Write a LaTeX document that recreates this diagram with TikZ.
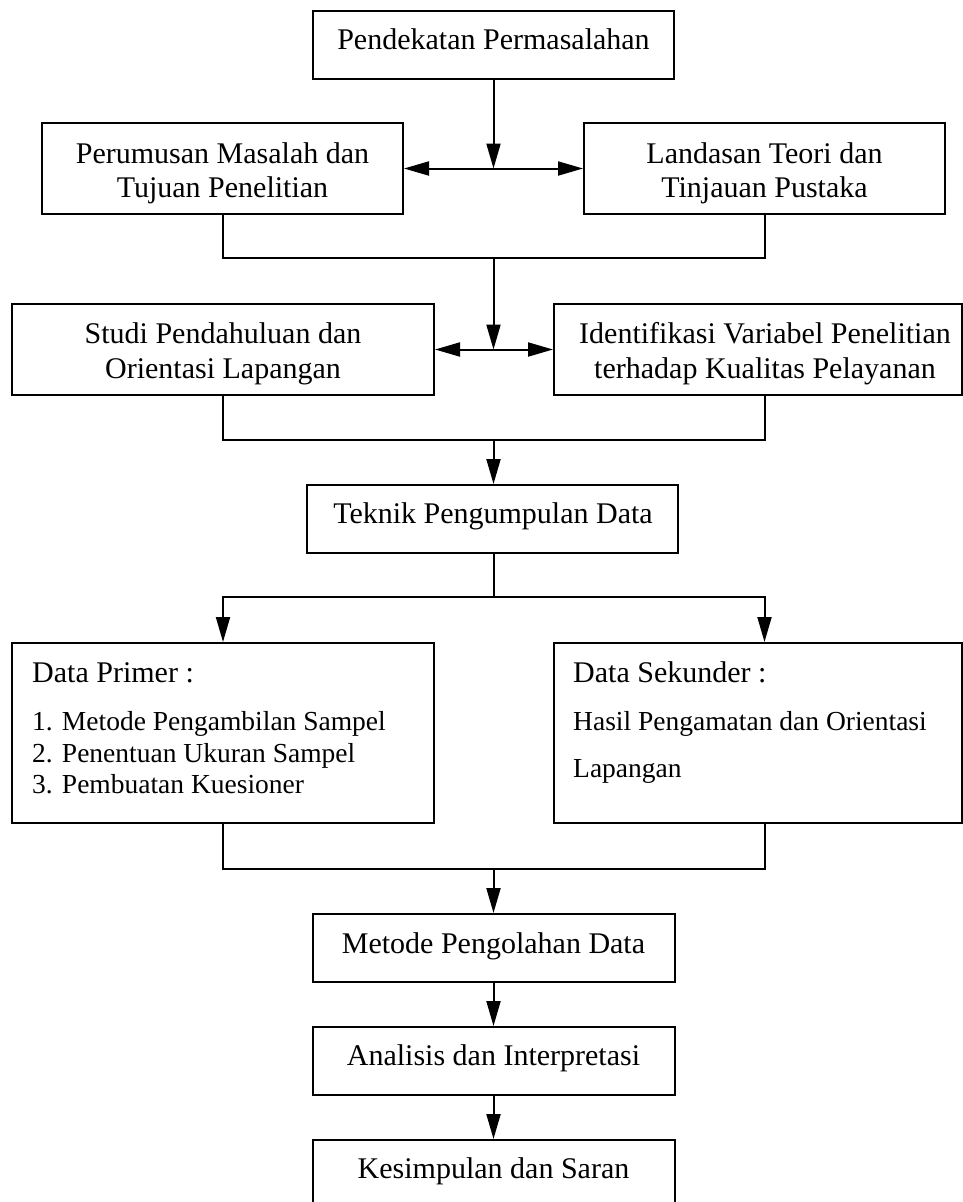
\documentclass[tikz,border=0pt]{standalone}
\usepackage{fontspec}
\setmainfont{Liberation Serif}
\usetikzlibrary{arrows.meta}
\begin{document}
\begin{tikzpicture}[x=1pt,y=-1pt,
  box/.style={draw,line width=2pt,rectangle,inner sep=0pt},
  lbl/.style={anchor=base,inner sep=0pt,font=\fontsize{30}{35}\selectfont},
  lblw/.style={anchor=base west,inner sep=0pt,font=\fontsize{30}{35}\selectfont},
  lbls/.style={anchor=base west,inner sep=0pt,font=\fontsize{27.5}{33}\selectfont},
  conn/.style={line width=2pt},
  arr/.style={conn,-{Triangle[length=25pt,width=14pt]}},
  darr/.style={conn,{Triangle[length=25pt,width=14pt]}-{Triangle[length=25pt,width=14pt]}}]
\useasboundingbox (0,0) rectangle (963,1202);
% boxes
\node[box,minimum width=361pt,minimum height=68pt] (pp) at (493.5,45) {};
\node[box,minimum width=361pt,minimum height=91pt] (pm) at (222.5,168.5) {};
\node[box,minimum width=361pt,minimum height=91pt] (lt) at (764.5,168.5) {};
\node[box,minimum width=422pt,minimum height=91pt] (sp) at (223,349.5) {};
\node[box,minimum width=408pt,minimum height=91pt] (iv) at (758,349.5) {};
\node[box,minimum width=371pt,minimum height=68pt] (tk) at (492.5,519) {};
\node[box,minimum width=422pt,minimum height=180pt] (dp) at (223,733) {};
\node[box,minimum width=408pt,minimum height=180pt] (ds) at (758,733) {};
\node[box,minimum width=362pt,minimum height=68pt] (mp) at (493.5,948) {};
\node[box,minimum width=362pt,minimum height=68pt] (ai) at (493.5,1061) {};
\node[box,minimum width=362pt,minimum height=68pt] (ks) at (493.5,1174) {};
% texts
\node[lbl] (ppt) at (493.5,49.5) {Pendekatan Permasalahan};
\node[lbl] (pmt1) at (222.5,163) {Perumusan Masalah dan};
\node[lbl] (pmt2) at (222.5,197) {Tujuan Penelitian};
\node[lbl] (ltt1) at (764.5,163) {Landasan Teori dan};
\node[lbl] (ltt2) at (764.5,197) {Tinjauan Pustaka};
\node[lbl] (spt1) at (223,343) {Studi Pendahuluan dan};
\node[lbl] (spt2) at (223,378) {Orientasi Lapangan};
\node[lbl] (ivt1) at (765,343) {Identifikasi Variabel Penelitian};
\node[lbl] (ivt2) at (765,378) {terhadap Kualitas Pelayanan};
\node[lbl] (tkt) at (493,523) {Teknik Pengumpulan Data};
\node[lblw] (dpt) at (32,682) {Data Primer :};
\node[lbls] (dp1) at (32,730) {1. Metode Pengambilan Sampel};
\node[lbls] (dp2) at (32,762) {2. Penentuan Ukuran Sampel};
\node[lbls] (dp3) at (32,793) {3. Pembuatan Kuesioner};
\node[lblw] (dst) at (573,682) {Data Sekunder :};
\node[lbls] (ds1) at (573,730) {Hasil Pengamatan dan Orientasi};
\node[lbls] (ds2) at (573,777) {Lapangan};
\node[lbl] (mpt) at (493.5,953) {Metode Pengolahan Data};
\node[lbl] (ait) at (493.5,1065) {Analisis dan Interpretasi};
\node[lbl] (kst) at (493.5,1178) {Kesimpulan dan Saran};
% junction coordinates
\coordinate (j1) at (pp.south |- pm.east);
\coordinate (b1) at (493.5,258);
\coordinate (j2) at (b1 |- sp.east);
\coordinate (b2) at (493.5,440);
\coordinate (b3) at (493.5,597);
\coordinate (b4) at (493.5,869);
% connectors
\draw[arr] (pp.south) -- (j1);
\draw[darr] (pm.east) -- (lt.west);
\draw[conn] (pm.south) |- (b1) -| (lt.south);
\draw[arr] (b1) -- (j2);
\draw[darr] (sp.east) -- (iv.west);
\draw[conn] (sp.south) |- (b2) -| (lt.south |- iv.south);
\draw[arr] (b2) -- (b2 |- tk.north);
\draw[conn] (b2 |- tk.south) -- (b3);
\draw[arr] (b3) -| (dp.north);
\draw[arr] (b3) -| (lt.south |- ds.north);
\draw[conn] (dp.south) |- (b4) -| (lt.south |- ds.south);
\draw[arr] (b4) -- (mp.north);
\draw[arr] (mp.south) -- (ai.north);
\draw[arr] (ai.south) -- (ks.north);
\end{tikzpicture}
\end{document}
